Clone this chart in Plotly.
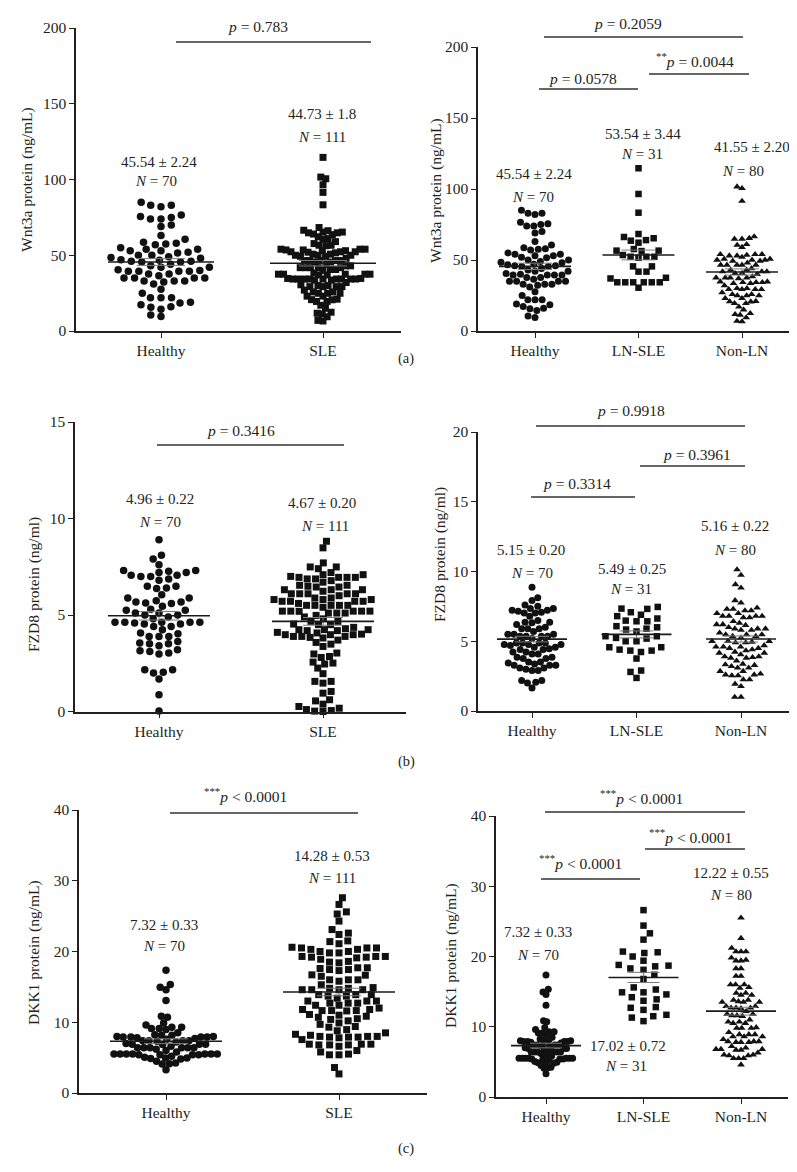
import math
import plotly.graph_objects as go

W, H = 797, 1172

# ------------------------------------------------------------------ data
cats_left = ["Healthy", "SLE"]
cats_right = ["Healthy", "LN-SLE", "Non-LN"]

# (a) Wnt3a, ng/mL
wnt_healthy = [83, 82, 83, 85, 75.5, 74, 74, 75, 76.5, 70, 69, 63, 60.6, 58, 57, 57.5, 58.6,
               54, 53, 52, 51.5, 53, 54, 55, 50, 49, 48, 50, 47, 45.5, 46, 44, 45.5, 46, 46.7,
               42, 40.5, 39.4, 39.4, 39.4, 42, 37.6, 36.5, 37.6, 39.4, 40, 35, 35, 35, 35,
               33, 32.3, 27.6, 31, 33, 33, 25, 22, 22, 22, 19, 18.4, 15.7, 17.3, 16, 14.4,
               9.5, 10.6, 48.5, 43]
wnt_ln = [114.6, 96.5, 83.3, 68.3, 65.3, 64, 62.2, 63.6, 66.2, 56.6, 57.7, 56.6, 56.3,
          53.5, 52.3, 52.3, 51.6, 52.3, 45.5, 45.5, 41.8, 41.8, 34.3, 34.3, 34.3, 37,
          34.3, 34.3, 34.3, 30.5, 37.5]
wnt_nonln = [101.6, 100.5, 91.5, 65.3, 64.8, 66.5, 64.8, 60.5, 59, 61,
             54, 53.5, 53, 54, 53, 54, 50, 49.3, 50.7, 50, 50.7, 49.3, 50,
             46.5, 46.5, 46.5, 46.5, 46.5, 41.8, 40.6, 43, 43, 40.6, 41.8, 41.8,
             37.5, 37.5, 38.3, 37.5, 37, 37.5, 34.7, 33.6, 34.3, 34.3, 34.3, 33.6, 34.7,
             30, 29.3, 29.3, 30, 29.3, 29.3, 25.8, 24.9, 24.9, 24.9, 25.8,
             23, 23, 21, 20.7, 19.5, 19.5, 17, 20.6, 15, 12.4, 11.3, 11.7,
             6.6, 7, 9.4, 52, 48, 44, 40, 32, 27]
wnt_sle = wnt_ln + wnt_nonln
wnt_mean_left = [45.54, 44.73]
wnt_sem_left = ["2.24", "1.8"]
wnt_mean_right = [45.54, 53.54, 41.55]
wnt_sem_right = ["2.24", "3.44", "2.20"]

# (b) FZD8, ng/ml
fzd_healthy_left = [8.9, 8.1, 7.9, 7.6, 7.3, 7.2, 7.06, 7.0, 7.0, 7.06, 7.2, 7.27, 7.3, 6.87, 6.8,
                    6.49, 6.37, 6.4, 6.49, 6.05, 5.88, 5.67, 5.67, 5.74, 5.88, 5.62,
                    5.45, 5.24, 5.1, 5.0, 5.0, 5.1, 5.24, 4.62, 4.62, 4.53, 4.58, 4.41, 4.41,
                    4.53, 4.62, 4.62, 4.62, 4.24, 4.03, 3.89, 3.63, 3.89, 3.89, 4.07,
                    3.51, 3.41, 3.11, 3.03, 2.98, 3.15, 3.2, 3.51, 3.55, 2.16, 2.04, 1.99, 2.16,
                    1.68, 0.87, 0.02, 5.3, 4.8, 4.9, 5.6]
fzd_sle_left = [8.48, 8.82, 7.7, 7.49, 7.4, 7.49,
                7.09, 6.95, 6.87, 6.78, 6.95, 7.0, 6.87, 6.95, 6.95, 7.09,
                6.54, 6.45, 6.31, 6.23, 6.31, 6.49, 6.31, 6.45, 6.54,
                5.8, 5.71, 5.88, 5.71, 5.8, 5.71, 5.88, 5.71, 5.8,
                6.1, 6.1, 6.1, 6.1, 6.1, 5.5, 5.5, 5.5, 5.5, 5.5, 5.2, 5.2, 5.2, 5.2, 5.2,
                5.19, 5.1, 4.98, 5.1, 5.1, 4.67, 4.53, 4.67, 4.5,
                4.36, 4.24, 4.24, 4.19, 4.19, 4.24, 4.29,
                3.98, 3.89, 3.89, 4.07, 3.84, 4.01, 3.98, 3.81, 3.89, 3.98,
                3.58, 3.49, 3.37, 3.03, 2.85, 2.98, 2.8, 2.56, 2.46, 2.25, 2.51,
                1.96, 1.56, 1.47, 1.56, 1.04, 0.95, 0.61, 0.55, 0.38, 0.17, 0.26,
                0.05, 0.0, 0.02, 0.1, 7.2, 6.7, 6.0, 5.6, 5.4, 4.9, 4.8, 4.5, 4.1, 3.7]
fzd_healthy_right = [8.87, 8.11, 7.92, 7.6, 7.5, 7.34, 7.22, 7.15, 7.22, 7.34, 7.08,
                     7.03, 7.03, 6.8, 6.36, 6.48, 6.36, 6.32, 5.9, 6.0, 5.7, 5.9, 5.9,
                     5.5, 5.36, 5.36, 5.5, 5.36, 5.36, 5.5, 4.88, 4.76, 4.88, 4.76, 4.88, 4.76, 4.88,
                     4.57, 4.4, 4.23, 4.47, 4.23, 4.4, 4.57, 4.09, 3.85, 3.76, 3.85, 3.76, 4.09,
                     3.37, 3.52, 3.28, 3.44, 3.28, 3.52, 3.09, 2.9, 2.9, 3.0, 3.09, 3.28,
                     2.18, 2.06, 2.0, 2.18, 1.65, 5.2, 4.7, 6.2]
fzd_ln = [7.08, 7.32, 7.46, 7.34, 6.8, 6.9, 6.43, 6.63, 6.48, 6.43,
          5.9, 5.7, 6.0, 6.08, 5.84, 5.36, 5.19, 5.36, 5.24, 5.0, 5.0,
          4.57, 4.57, 4.4, 4.23, 4.33, 4.33, 3.76, 2.9, 2.8, 2.37]
fzd_nonln = [10.14, 9.74, 8.83, 9.07, 7.75, 7.92, 7.39,
             7.2, 7.0, 7.3, 7.3, 7.0, 7.2, 6.8, 6.7, 6.8, 6.8, 6.7, 6.8,
             6.2, 6.3, 6.43, 6.2, 6.15, 5.9, 5.8, 5.9, 5.8, 5.9,
             5.48, 5.36, 5.24, 5.48, 5.36, 5.48, 5.0, 4.9, 5.0, 4.9, 5.0, 4.95,
             4.6, 4.5, 4.7, 4.6, 4.5, 4.6, 4.33, 4.16, 4.04, 4.23, 4.16,
             3.9, 3.8, 3.85, 3.8, 3.9, 3.33, 3.09, 3.2, 3.28, 3.09, 3.37,
             2.85, 2.85, 2.66, 2.54, 2.54, 2.6, 2.6, 2.25, 2.25, 1.77, 1.94,
             1.0, 1.0, 5.6, 4.4, 6.0, 3.6]
fzd_mean_left = [4.96, 4.67]
fzd_sem_left = ["0.22", "0.20"]
fzd_mean_right = [5.15, 5.49, 5.16]
fzd_sem_right = ["0.20", "0.25", "0.22"]

# (c) DKK1, ng/mL
dkk_healthy = [17.36, 15.33, 14.95, 14.6, 13.07, 10.85, 10.7, 9.9, 9.3, 9.1, 8.96, 9.1, 9.3, 9.6,
               8.0, 8.0, 7.8, 7.7, 8.25, 8.16, 7.9, 7.9, 7.9, 7.9, 8.16,
               7.3, 6.9, 6.85, 7.4, 7.2, 7.4, 7.4, 6.9, 6.9, 7.4,
               6.4, 6.2, 6.4, 6.4, 6.4, 6.4, 6.4,
               5.4, 5.4, 5.5, 5.5, 5.5, 5.5, 5.5, 5.5, 5.5, 5.4, 5.4,
               4.8, 4.95, 4.95, 5.05, 4.86, 4.5, 4.1, 4.15, 4.25, 3.3,
               8.5, 7.6, 7.0, 6.6, 6.0, 5.8, 5.2]
dkk_sle_left = [27.6, 26.65, 25.3, 25.6, 24.3, 23.1, 22.6, 22.4, 21.5, 21.1, 21.4,
                20.0, 19.8, 20.6, 20.3, 20.3, 20.5, 20.5, 20.5, 19.8, 20.0,
                19.2, 19.3, 19.3, 19.3, 19.2, 19.1, 18.9, 18.6, 18.5, 18.4,
                17.45, 17.7, 17.6, 17.7, 17.3, 17.45,
                16.7, 16.5, 16.0, 16.0, 16.65, 16.0, 15.8, 15.3,
                14.8, 14.6, 14.9, 14.6, 14.6, 14.6, 14.8,
                13.7, 13.9, 13.7, 13.9, 13.9, 13.4,
                13.0, 12.7, 13.0, 12.7, 12.4, 12.4, 12.7, 13.0,
                12.0, 11.8, 11.6, 11.65, 11.8, 11.65, 11.65,
                10.5, 10.2, 10.85, 10.7, 11.1, 11.0, 9.9, 10.4, 9.7, 9.4, 9.3,
                8.5, 8.8, 8.96, 8.3, 8.0, 7.9, 8.0, 7.55, 7.8, 7.9, 7.9, 8.0, 8.16,
                6.9, 6.9, 6.6, 6.9, 6.8, 6.8, 6.8, 5.8, 5.4, 5.4, 5.5, 6.0, 3.6, 2.7]
dkk_ln = [26.6, 24.4, 23.3, 22.4, 20.6, 20.0, 20.5, 20.7, 18.7, 18.3, 19.4, 18.1, 18.6, 18.8,
          16.8, 17.4, 15.3, 14.9, 14.2, 14.6, 14.9, 15.6, 13.7, 13.9, 12.7, 12.4, 12.8,
          11.7, 11.5, 11.3, 10.8]
dkk_nonln = [25.5, 22.6, 21.2, 20.7, 20.7, 20.7, 19.4, 19.5, 19.8, 19.4, 18.3, 18.3, 17.2, 17.2,
             16.0, 15.5, 15.6, 16.0, 16.0, 14.5, 14.8, 14.8, 14.5,
             13.8, 13.5, 13.5, 13.5, 13.6, 13.8, 12.9, 12.6, 12.7, 12.7, 12.7, 12.9,
             11.8, 11.6, 11.5, 11.6, 11.8, 10.7, 10.5, 10.5, 10.7, 9.9, 9.8, 9.8, 9.8,
             8.6, 8.9, 8.9, 8.9, 8.6, 8.6, 7.9, 7.8, 7.9, 7.8, 7.8, 7.9,
             6.8, 7.0, 6.7, 6.7, 6.8, 6.8, 6.0, 5.9, 5.9, 6.0, 5.5, 5.5, 5.5, 4.6,
             12.2, 11.0, 9.2, 8.2, 7.2, 6.3]
dkk_mean_left = [7.32, 14.28]
dkk_sem_left = ["0.33", "0.53"]
dkk_mean_right = [7.32, 17.02, 12.22]
dkk_sem_right = ["0.33", "0.72", "0.55"]

n_left = [70, 111]
n_right = [70, 31, 80]

p_a_left = ["0.783"]
p_a_right = ["0.2059", "0.0578", "0.0044"]
p_b_left = ["0.3416"]
p_b_right = ["0.9918", "0.3961", "0.3314"]
p_c_left = ["0.0001"]
p_c_right = ["0.0001", "0.0001", "0.0001"]

# ------------------------------------------------------------------ layout helpers
FONT = "Liberation Serif"
INK = "#231f20"


def px2x(px):
    return px / W


def px2y(py):
    return 1 - py / H


def swarm(vals, ppu, d, half_w):
    n = len(vals)
    order = sorted(range(n), key=lambda i: vals[i])
    placed = []
    xs = [0.0] * n
    flip = 1
    for i in order:
        y = vals[i] * ppu
        near = [(py, px) for (py, px) in placed if abs(y - py) < d]
        cands = [0.0]
        for py, px in near:
            dx = math.sqrt(max(d * d - (y - py) ** 2, 0.0))
            cands += [px + dx, px - dx]
        flip = -flip
        cands.sort(key=lambda c: (round(abs(c), 3), flip * c))
        chosen = cands[-1]
        for c in cands:
            if all((c - px) ** 2 + (y - py) ** 2 >= d * d - 1e-6 for py, px in near):
                chosen = c
                break
        placed.append((y, chosen))
        xs[i] = chosen
    m = max(abs(v) for v in xs) or 1.0
    return [v * half_w / m for v in xs]


def ptext(stars, op, val):
    s = "<sup>%s</sup>" % stars if stars else ""
    return s + "<i>p</i> %s %s" % (op, val)


panels = [
    dict(groups=[wnt_healthy, wnt_sle], means=wnt_mean_left, sems=wnt_sem_left, ns=n_left,
         cats=cats_left, ymax=200, dtick=50, ytitle="Wnt3a protein (ng/mL)",
         axl=68, axr=393, y0=323, ytop=20, catpx=[153, 315], half=[50, 47],
         meanw=53, capw=24, tpx=(19, 172),
         stat_px=[(151, 154), (314, 106)], n_px=[(148, 173), (314, 129)],
         ps=[(250, 19, ptext("", "=", p_a_left[0]), 168, 363, 34)]),
    dict(groups=[wnt_healthy, wnt_ln, wnt_nonln], means=wnt_mean_right, sems=wnt_sem_right,
         ns=n_right, cats=cats_right, ymax=200, dtick=50, ytitle="Wnt3a protein (ng/mL)",
         axl=470, axr=787, y0=323, ytop=39, catpx=[527, 631, 734], half=[34, 28, 28],
         meanw=36, capw=17, tpx=(428, 183),
         stat_px=[(526, 166), (635, 126), (744, 139)], n_px=[(525, 189), (634, 146), (735, 163)],
         ps=[(620, 15, ptext("", "=", p_a_right[0]), 536, 735, 29),
             (575, 70, ptext("", "=", p_a_right[1]), 531, 630, 81),
             (687, 52, ptext("**", "=", p_a_right[2]), 641, 741, 66)]),
    dict(groups=[fzd_healthy_left, fzd_sle_left], means=fzd_mean_left, sems=fzd_sem_left,
         ns=n_left, cats=cats_left, ymax=15, dtick=5, ytitle="FZD8 protein (ng/ml)",
         axl=67, axr=398, y0=703.5, ytop=414, catpx=[151, 315], half=[44, 49],
         meanw=51, capw=20, tpx=(26, 577),
         stat_px=[(152, 491), (314, 495)], n_px=[(152, 514), (317, 518)],
         ps=[(233, 422, ptext("", "=", p_b_left[0]), 149, 336, 437)]),
    dict(groups=[fzd_healthy_right, fzd_ln, fzd_nonln], means=fzd_mean_right, sems=fzd_sem_right,
         ns=n_right, cats=cats_right, ymax=20, dtick=5, ytitle="FZD8 protein (ng/ml)",
         axl=470, axr=787, y0=703, ytop=424, catpx=[524, 629, 733], half=[29, 31, 29],
         meanw=35, capw=17, tpx=(432, 547),
         stat_px=[(523, 542), (624, 561), (727, 518)], n_px=[(524, 565), (623, 581), (727, 542)],
         ps=[(623, 403, ptext("", "=", p_b_right[0]), 528, 737, 418),
             (689, 446, ptext("", "=", p_b_right[1]), 632, 737, 458),
             (569, 475, ptext("", "=", p_b_right[2]), 523, 627, 489)]),
    dict(groups=[dkk_healthy, dkk_sle_left], means=dkk_mean_left, sems=dkk_sem_left,
         ns=n_left, cats=cats_left, ymax=40, dtick=10, ytitle="DKK1 protein (ng/mL)",
         axl=71, axr=419, y0=1085, ytop=802, catpx=[158, 331], half=[52, 47],
         meanw=56, capw=22, tpx=(26, 945),
         stat_px=[(156, 917), (324, 848)], n_px=[(156, 938), (324, 870)],
         ps=[(237, 787, ptext("***", "&lt;", p_c_left[0]), 162, 350, 805)]),
    dict(groups=[dkk_healthy, dkk_ln, dkk_nonln], means=dkk_mean_right, sems=dkk_sem_right,
         ns=n_right, cats=cats_right, ymax=40, dtick=10, ytitle="DKK1 protein (ng/mL)",
         axl=488, axr=780, y0=1089, ytop=808, catpx=[538, 635, 733], half=[27, 25, 25],
         meanw=35, capw=16, tpx=(443, 948),
         stat_px=[(530, 924), (620, 1038), (723, 865)], n_px=[(530, 947), (618, 1058), (723, 887)],
         ps=[(633, 789, ptext("***", "&lt;", p_c_right[0]), 537, 737, 804),
             (682, 828, ptext("***", "&lt;", p_c_right[1]), 637, 737, 841),
             (572, 854, ptext("***", "&lt;", p_c_right[2]), 533, 632, 871)]),
]

symbols = {"Healthy": "circle", "SLE": "square", "LN-SLE": "square", "Non-LN": "triangle-up"}

for p in panels:
    for g, n in zip(p["groups"], p["ns"]):
        assert len(g) == n, (len(g), n)

fig = go.Figure()
layout = dict(width=W, height=H, margin=dict(l=0, r=0, t=0, b=0), autosize=False,
              paper_bgcolor="white", plot_bgcolor="white", showlegend=False)
annotations = []
shapes = []


def note(x, y, text, size, angle=0):
    annotations.append(dict(x=px2x(x), y=px2y(y), xref="paper", yref="paper", text=text,
                            showarrow=False, xanchor="center", yanchor="middle",
                            textangle=angle, font=dict(family=FONT, size=size, color=INK)))


for k, p in enumerate(panels, start=1):
    xa = "x" if k == 1 else "x%d" % k
    ya = "y" if k == 1 else "y%d" % k
    ncat = len(p["cats"])
    spacing = (p["catpx"][-1] - p["catpx"][0]) / (ncat - 1)
    ppu = (p["y0"] - p["ytop"]) / p["ymax"]
    left = ncat == 2
    for gi, (vals, cat) in enumerate(zip(p["groups"], p["cats"])):
        sym = symbols[cat]
        if sym == "circle":
            size = 7.5 if left else 7
        elif sym == "square":
            size = 7 if left else 6.5
        else:
            size = 6.8
        offs = swarm(vals, ppu, 7.2, p["half"][gi])
        fig.add_trace(go.Scatter(
            x=[gi + o / spacing for o in offs], y=vals, mode="markers",
            marker=dict(symbol=sym, size=size, color="#111111", line=dict(width=0)),
            xaxis=xa, yaxis=ya, cliponaxis=False, hoverinfo="skip"))
    for gi, (m, s) in enumerate(zip(p["means"], p["sems"])):
        sv = float(s)
        mw = p["meanw"] / spacing
        cw = p["capw"] / spacing
        fig.add_trace(go.Scatter(x=[gi - cw, gi + cw, None, gi - cw, gi + cw, None, gi, gi],
                                 y=[m + sv, m + sv, None, m - sv, m - sv, None, m - sv, m + sv],
                                 mode="lines", line=dict(color="#7a7a7a", width=1),
                                 xaxis=xa, yaxis=ya, cliponaxis=False, hoverinfo="skip"))
        fig.add_trace(go.Scatter(x=[gi - mw, gi + mw], y=[m, m], mode="lines",
                                 line=dict(color="#1a1a1a", width=1.6),
                                 xaxis=xa, yaxis=ya, cliponaxis=False, hoverinfo="skip"))
        sx, sy = p["stat_px"][gi]
        note(sx, sy, "%.2f ± %s" % (m, s), 15)
        nx, ny = p["n_px"][gi]
        note(nx, ny, "<i>N</i> = %d" % p["ns"][gi], 15)
    for (tx, ty, txt, lx0, lx1, ly) in p["ps"]:
        note(tx, ty, txt, 15.5)
        shapes.append(dict(type="line", xref="paper", yref="paper",
                           x0=px2x(lx0), x1=px2x(lx1), y0=px2y(ly), y1=px2y(ly),
                           line=dict(color="#333333", width=1.3)))
    note(p["tpx"][0], p["tpx"][1], p["ytitle"], 15.5, -90)
    xr0 = (p["axl"] - p["catpx"][0]) / spacing
    xr1 = (p["axr"] - p["catpx"][0]) / spacing
    axis_common = dict(showline=True, linecolor="#231f20", linewidth=1.5, ticks="outside",
                       ticklen=5, tickwidth=1.3, tickcolor="#231f20", showgrid=False,
                       zeroline=False, automargin=False,
                       tickfont=dict(family=FONT, size=15.5, color=INK))
    layout["xaxis" if k == 1 else "xaxis%d" % k] = dict(
        domain=[px2x(p["axl"]), px2x(p["axr"])], range=[xr0, xr1], anchor=ya,
        tickmode="array", tickvals=list(range(ncat)), ticktext=p["cats"], **axis_common)
    layout["yaxis" if k == 1 else "yaxis%d" % k] = dict(
        domain=[px2y(p["y0"]), px2y(p["ytop"])], range=[0, p["ymax"]], anchor=xa,
        tickmode="linear", tick0=0, dtick=p["dtick"], **axis_common)

for lab, ly in (("(a)", 350), ("(b)", 753), ("(c)", 1140)):
    note(398, ly, lab, 14.5)

layout["annotations"] = annotations
layout["shapes"] = shapes
fig.update_layout(**layout)
fig.write_html("out.html")
